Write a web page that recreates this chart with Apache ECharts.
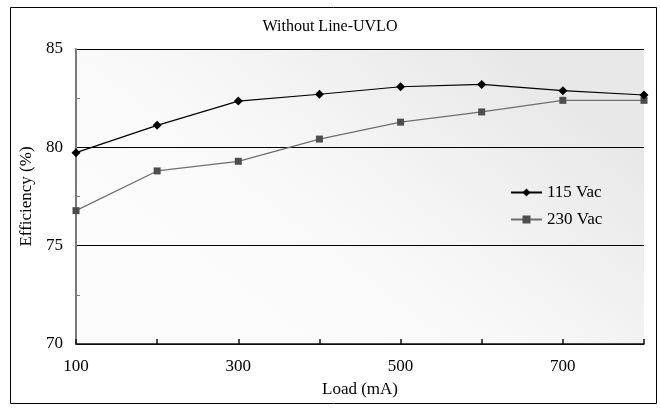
<!DOCTYPE html>
<html><head><meta charset="utf-8">
<script src="https://cdn.jsdelivr.net/npm/echarts@6/dist/echarts.min.js"></script>
<style>html,body{margin:0;padding:0;background:#fff}#c{width:660px;height:408px}</style>
</head><body><div id="c"></div>
<script>
var loads = [100, 200, 300, 400, 500, 600, 700, 800];
var eff115 = [79.73, 81.12, 82.35, 82.7, 83.08, 83.2, 82.88, 82.66];
var eff230 = [76.78, 78.8, 79.29, 80.42, 81.28, 81.8, 82.39, 82.39];
var xLabels = [100, 300, 500, 700];
var yLabels = [70, 75, 80, 85];
var seriesNames = ['115 Vac', '230 Vac'];

var font = 'Liberation Serif';
var chart = echarts.init(document.getElementById('c'), null, {renderer: 'canvas'});
function pairs(v) { return loads.map(function (x, i) { return [x, v[i]]; }); }
chart.setOption({
  animation: false,
  backgroundColor: '#fff',
  textStyle: {fontFamily: font, color: '#000'},
  title: {text: 'Without Line-UVLO', left: 'center', top: 14,
    textStyle: {fontFamily: font, fontSize: 16, fontWeight: 'normal', color: '#000'}},
  graphic: [{type: 'rect', shape: {x: 10.5, y: 7.5, width: 646, height: 396},
    style: {fill: 'none', stroke: '#000', lineWidth: 1}, silent: true, z: 100}],
  legend: {
    orient: 'vertical', left: 505, top: 179, itemGap: 10, itemWidth: 31, itemHeight: 10,
    data: seriesNames,
    textStyle: {fontFamily: font, fontSize: 17, color: '#000'}
  },
  grid: {left: 76, right: 16, top: 49, bottom: 64, show: true, borderWidth: 0,
    backgroundColor: new echarts.graphic.LinearGradient(0.75, 0, 0.35, 1, [
      {offset: 0, color: '#e8e8e8'}, {offset: 0.6, color: '#f8f8f8'}, {offset: 1, color: '#fcfcfc'}])},
  xAxis: {
    type: 'value', min: 100, max: 800, interval: 100,
    name: 'Load (mA)', nameLocation: 'middle', nameGap: 37,
    nameTextStyle: {fontFamily: font, fontSize: 17, color: '#000'},
    axisLine: {lineStyle: {color: '#111', width: 1.5}},
    axisTick: {inside: true, length: 5, lineStyle: {color: '#111', width: 1.5}},
    splitLine: {show: false},
    axisLabel: {fontFamily: font, fontSize: 17, color: '#000', margin: 14,
      formatter: function (v) { return xLabels.indexOf(v) >= 0 ? String(v) : ''; }}
  },
  yAxis: {
    type: 'value', min: 70, max: 85, interval: 5,
    name: 'Efficiency (%)', nameLocation: 'middle', nameGap: 41,
    nameTextStyle: {fontFamily: font, fontSize: 17, color: '#000'},
    axisLine: {show: true, lineStyle: {color: '#7a7a7a', width: 2}},
    axisTick: {show: false, inside: true},
    minorTick: {show: true, splitNumber: 2, length: 4, lineStyle: {color: '#7a7a7a', width: 1}},
    splitLine: {show: true, lineStyle: {color: '#000', width: 1}},
    axisLabel: {fontFamily: font, fontSize: 17, color: '#000', margin: 13,
      formatter: function (v) { return yLabels.indexOf(v) >= 0 ? String(v) : ''; }}
  },
  series: [
    {name: seriesNames[0], type: 'line', data: pairs(eff115), symbol: 'diamond', symbolSize: 9,
      itemStyle: {color: '#000'}, lineStyle: {color: '#000', width: 1.2}, z: 3},
    {name: seriesNames[1], type: 'line', data: pairs(eff230), symbol: 'rect', symbolSize: 7,
      itemStyle: {color: '#4d4d4d'}, lineStyle: {color: '#6e6e6e', width: 1.2}, z: 2}
  ]
});
</script></body></html>
